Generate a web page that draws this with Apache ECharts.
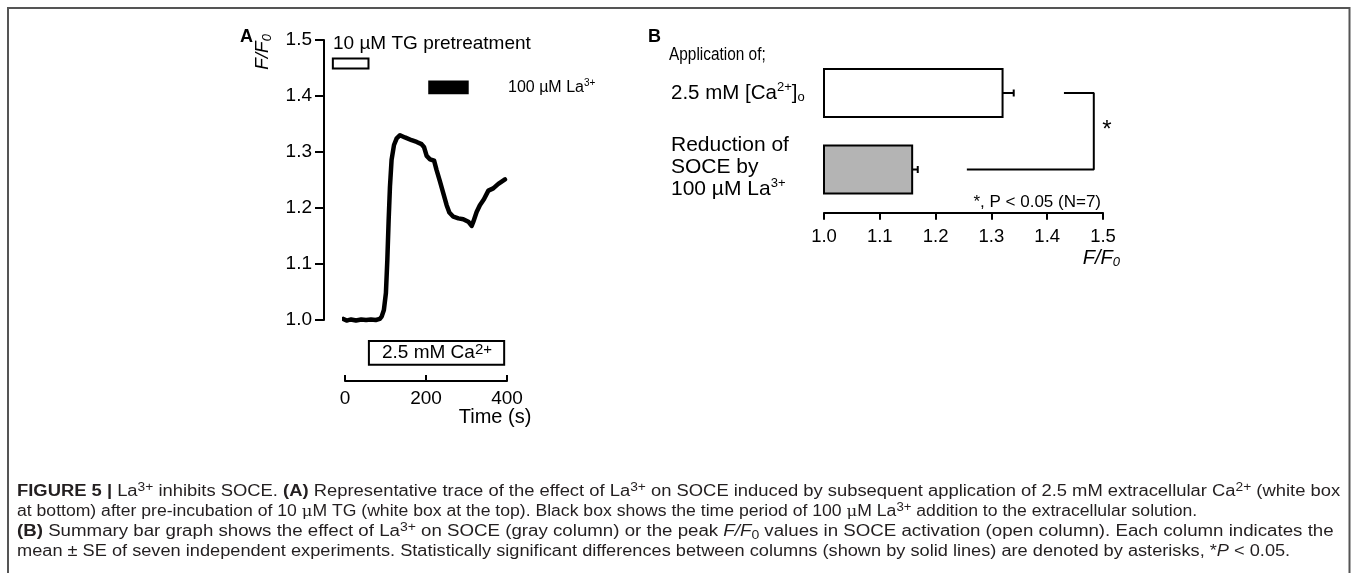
<!DOCTYPE html>
<html>
<head>
<meta charset="utf-8">
<script src="https://cdn.jsdelivr.net/npm/echarts@6/dist/echarts.min.js"></script>
<style>
html,body{margin:0;padding:0;background:#fff;}
#chart{width:1357px;height:573px;}
</style>
</head>
<body>
<div id="chart"></div>
<script>
// ---- Panel A: F/F0 trace ----
const timeS = [-4, 4, 15, 27, 40, 52, 64, 76, 86, 90.5, 96, 101, 104.5, 107.8, 111, 115, 121, 127.6, 135.8, 148, 164.6, 177, 189, 195, 201.6, 210, 220, 226, 234.6, 242.8, 251, 257.6, 267.5, 280, 292, 304.5, 312.8, 316.9, 325, 333, 343, 354, 366, 378.6, 395];
const ratioF = [1.002, 0.999, 1.001, 0.999, 1.001, 1.0, 1.001, 1.0, 1.002, 1.006, 1.018, 1.048, 1.107, 1.179, 1.238, 1.286, 1.3125, 1.3244, 1.330, 1.326, 1.321, 1.318, 1.314, 1.309, 1.293, 1.287, 1.2845, 1.268, 1.247, 1.226, 1.205, 1.192, 1.1845, 1.1815, 1.180, 1.1756, 1.168, 1.1756, 1.193, 1.205, 1.2155, 1.231, 1.235, 1.243, 1.251];
const xTicksA = [0, 200, 400];
const yTicksA = [1.0, 1.1, 1.2, 1.3, 1.4, 1.5];
// application boxes (TG pretreatment, La3+, 2.5 mM Ca2+)
const boxStart = [-30, 208, 59];
const boxEnd = [58, 303, 393];
const boxLow = [1.449, 1.405, 0.920];
const boxHigh = [1.467, 1.426, 0.9625];
const boxFill = ['#ffffff', '#000000', '#ffffff'];

// ---- Panel B: bar graph ----
const barCats = ['2.5 mM [Ca2+]o', 'Reduction of SOCE by 100 µM La3+'];
const barMeans = [1.32, 1.158];
const barErrs = [0.02, 0.01];
const barFills = ['#ffffff', '#b4b4b4'];
const xTicksB = [1.0, 1.1, 1.2, 1.3, 1.4, 1.5];
const bracketX = [1.43, 1.4835, 1.4835, 1.256];
const bracketCat = [0, 0, 1, 1];

const FONT = "'Liberation Sans', Arial, Helvetica, sans-serif";
const chart = echarts.init(document.getElementById('chart'), null, {renderer: 'canvas'});

function txt(x, y, text, o) {
  o = o || {};
  return {
    type: 'text', x: x, y: y, rotation: o.rotation || 0, scaleX: o.scaleX || 1, z: 100,
    style: {
      text: text, fontFamily: FONT, fontSize: o.size || 19, fontWeight: o.weight || 'normal',
      fontStyle: o.style || 'normal',
      fill: o.color || '#000', align: o.align || 'left', verticalAlign: o.valign || 'middle',
      rich: o.rich || {}
    }
  };
}
function richSet(size, col) {
  col = col || '#000';
  return {
    sup: {fontSize: Math.round(size * 0.62), fontFamily: FONT, padding: [0, 0, Math.round(size * 0.55), 0], fill: col},
    sub: {fontSize: Math.round(size * 0.65), fontFamily: FONT, padding: [Math.round(size * 0.45), 0, 0, 0], fill: col},
    isub: {fontSize: Math.round(size * 0.7), fontFamily: FONT, fontStyle: 'italic', padding: [Math.round(size * 0.45), 0, 0, 0], fill: col},
    b: {fontWeight: 'bold', fontSize: size, fontFamily: FONT, fill: col},
    i: {fontStyle: 'italic', fontSize: size, fontFamily: FONT, fill: col},
    mu: {fontSize: Math.round(size * 0.95), fontFamily: "'DejaVu Serif', serif", fill: col}
  };
}
const capSize = 16;
const capCol = '#231f20';
const capRich = richSet(capSize, capCol);
capRich.sup = {fontSize: 12, fontFamily: FONT, padding: [0, 0, 8, 0], fill: capCol};
capRich.sub = {fontSize: 12, fontFamily: FONT, padding: [7, 0, 0, 0], fill: capCol};
const caption = [
  '{b|FIGURE 5 |} La{sup|3+} inhibits SOCE. {b|(A)} Representative trace of the effect of La{sup|3+} on SOCE induced by subsequent application of 2.5 mM extracellular Ca{sup|2+} (white box',
  'at bottom) after pre-incubation of 10 {mu|\u03bc}M TG (white box at the top). Black box shows the time period of 100 {mu|\u03bc}M La{sup|3+} addition to the extracellular solution.',
  '{b|(B)} Summary bar graph shows the effect of La{sup|3+} on SOCE (gray column) or the peak {i|F/F}{sub|0} values in SOCE activation (open column). Each column indicates the',
  'mean \u00b1 SE of seven independent experiments. Statistically significant differences between columns (shown by solid lines) are denoted by asterisks, *{i|P} < 0.05.'
];
const capY = [492, 512, 532, 552];
const capScale = [1.149, 1.10, 1.168, 1.137];

const graphics = [
  {type: 'rect', shape: {x: 8, y: 8, width: 1341.5, height: 620}, style: {fill: 'none', stroke: '#555', lineWidth: 2}, z: 0},
  txt(240, 37, 'A', {weight: 'bold', size: 18}),
  txt(648, 37, 'B', {weight: 'bold', size: 18}),
  txt(263, 52, '{i|F/F}{isub|0}', {rotation: Math.PI / 2, align: 'center', rich: Object.assign(richSet(19), {i: {fontStyle: 'italic', fontSize: 19, fontFamily: FONT, fill: '#000'}})}),
  txt(333, 44, '10 \u00b5M TG pretreatment', {size: 19}),
  txt(508, 88, '100 \u00b5M La{sup|3+}', {size: 16, rich: richSet(16)}),
  txt(437, 353, '2.5 mM Ca{sup|2+}', {size: 19, align: 'center', rich: Object.assign(richSet(19), {sup: {fontSize: 15, fontFamily: FONT, padding: [0, 0, 7, 0], fill: '#000'}})}),
  txt(495, 417, 'Time (s)', {size: 20, align: 'center'}),
  txt(669, 55, 'Application of;', {size: 17.5, scaleX: 0.88}),
  txt(671, 93, '2.5 mM [Ca{sup|2+}]{sub|o}', {size: 20.5, rich: richSet(20.5)}),
  txt(671, 145, 'Reduction of', {size: 21}),
  txt(671, 167, 'SOCE by', {size: 21}),
  txt(671, 189, '100 \u00b5M La{sup|3+}', {size: 21, rich: richSet(21)}),
  txt(1101, 202, '*, P < 0.05 (N=7)', {size: 17, align: 'right'}),
  txt(1107, 130, '*', {size: 24, align: 'center'}),
  txt(1120, 258, '{i|F/F}{isub|0}', {align: 'right', rich: Object.assign(richSet(19), {i: {fontStyle: 'italic', fontSize: 20, fontFamily: FONT, fill: '#000'}})})
];
caption.forEach(function (line, k) {
  graphics.push({
    type: 'text', x: 17, y: capY[k], z: 100, scaleX: capScale[k],
    style: {text: line, fontFamily: FONT, fontSize: capSize, fill: capCol, align: 'left', verticalAlign: 'middle', rich: capRich}
  });
});

const option = {
  animation: false,
  backgroundColor: '#fff',
  textStyle: {fontFamily: FONT},
  grid: [
    {left: 345, top: 40, width: 162, height: 280, containLabel: false},
    {left: 824, top: 54.75, width: 279, height: 153, containLabel: false}
  ],
  xAxis: [
    {
      type: 'value', gridIndex: 0, min: xTicksA[0], max: xTicksA[xTicksA.length - 1], interval: xTicksA[1] - xTicksA[0],
      position: 'bottom', offset: 61,
      axisLine: {show: true, onZero: false, lineStyle: {color: '#000', width: 2}},
      axisTick: {show: true, inside: true, length: 6, lineStyle: {color: '#000', width: 2}},
      axisLabel: {show: true, color: '#000', fontSize: 19, margin: 8, fontFamily: FONT},
      splitLine: {show: false}
    },
    {
      type: 'value', gridIndex: 1, min: xTicksB[0], max: xTicksB[xTicksB.length - 1], interval: 0.1,
      position: 'bottom', offset: 5,
      axisLine: {show: true, onZero: false, lineStyle: {color: '#000', width: 2}},
      axisTick: {show: true, inside: false, length: 7, lineStyle: {color: '#000', width: 2}},
      axisLabel: {show: true, color: '#000', fontSize: 18.5, margin: 15, fontFamily: FONT, formatter: function (v) { return v.toFixed(1); }},
      splitLine: {show: false}
    }
  ],
  yAxis: [
    {
      type: 'value', gridIndex: 0, min: yTicksA[0], max: yTicksA[yTicksA.length - 1], interval: 0.1,
      position: 'left', offset: 21,
      axisLine: {show: true, onZero: false, lineStyle: {color: '#000', width: 2}},
      axisTick: {show: true, inside: false, length: 9, lineStyle: {color: '#000', width: 2}},
      axisLabel: {show: true, color: '#000', fontSize: 19, margin: 12, fontFamily: FONT, formatter: function (v) { return v.toFixed(1); }},
      splitLine: {show: false}
    },
    {
      type: 'category', gridIndex: 1, data: barCats, inverse: true,
      axisLine: {show: false}, axisTick: {show: false}, axisLabel: {show: false}, splitLine: {show: false}
    }
  ],
  series: [
    {
      type: 'line', xAxisIndex: 0, yAxisIndex: 0,
      data: timeS.map(function (t, i) { return [t, ratioF[i]]; }),
      showSymbol: false, symbol: 'none', clip: false,
      lineStyle: {color: '#000', width: 4.5, join: 'round', cap: 'round'},
      z: 5
    },
    {
      type: 'custom', xAxisIndex: 0, yAxisIndex: 0, clip: false,
      data: boxStart.map(function (s, i) { return [s, boxEnd[i], boxLow[i], boxHigh[i]]; }),
      encode: {x: [0, 1], y: [2, 3]},
      renderItem: function (params, api) {
        const p1 = api.coord([api.value(0), api.value(3)]);
        const p2 = api.coord([api.value(1), api.value(2)]);
        return {
          type: 'rect',
          shape: {x: p1[0], y: p1[1], width: p2[0] - p1[0], height: p2[1] - p1[1]},
          style: {fill: boxFill[params.dataIndex], stroke: '#000', lineWidth: 2}
        };
      },
      z: 6
    },
    {
      type: 'custom', xAxisIndex: 1, yAxisIndex: 1, clip: false,
      data: barMeans.map(function (m, i) { return [m, i, barErrs[i]]; }),
      encode: {x: 0, y: 1},
      renderItem: function (params, api) {
        const v = api.value(0), c = api.value(1), e = api.value(2);
        const base = api.coord([xTicksB[0], c]);
        const end = api.coord([v, c]);
        const errEnd = api.coord([v + e, c]);
        const band = api.size([0, 1])[1];
        const h = band * 0.627;
        return {
          type: 'group',
          children: [
            {type: 'line', shape: {x1: end[0], y1: end[1], x2: errEnd[0], y2: errEnd[1]}, style: {stroke: '#000', lineWidth: 2}},
            {type: 'line', shape: {x1: errEnd[0], y1: errEnd[1] - 3.5, x2: errEnd[0], y2: errEnd[1] + 3.5}, style: {stroke: '#000', lineWidth: 2}},
            {type: 'rect', shape: {x: base[0], y: base[1] - h / 2, width: end[0] - base[0], height: h}, style: {fill: barFills[params.dataIndex], stroke: '#000', lineWidth: 2}}
          ]
        };
      },
      z: 5
    },
    {
      type: 'line', xAxisIndex: 1, yAxisIndex: 1,
      data: bracketX.map(function (x, i) { return [x, bracketCat[i]]; }),
      showSymbol: false, symbol: 'none', clip: false,
      lineStyle: {color: '#000', width: 2},
      z: 5
    }
  ],
  graphic: graphics
};
chart.setOption(option);
</script>
</body>
</html>
